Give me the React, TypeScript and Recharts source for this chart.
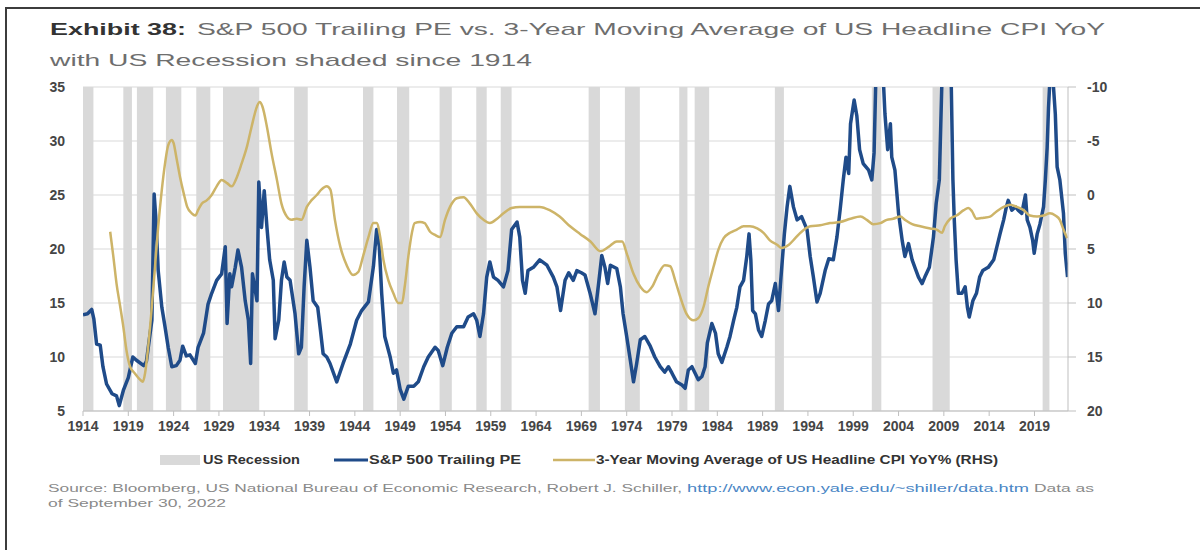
import React from "react";
import {
  CartesianGrid,
  ComposedChart,
  Line,
  ReferenceArea,
  XAxis,
  YAxis,
} from "recharts";

// S&P 500 trailing PE (left axis)
const peYears = [
  1914.0, 1914.5, 1914.96, 1915.2, 1915.5, 1915.9, 1916.2, 1916.6, 1917.2, 1917.7,
  1918.0, 1918.45, 1919.0, 1919.5, 1919.9, 1920.7, 1921.0, 1921.6, 1921.85, 1922.05,
  1922.3, 1922.7, 1923.05, 1923.4, 1923.8, 1924.3, 1924.7, 1925.0, 1925.4, 1925.8,
  1926.4, 1926.7, 1927.3, 1927.8, 1928.2, 1928.75, 1929.3, 1929.7, 1929.9, 1930.2,
  1930.4, 1930.8, 1931.1, 1931.5, 1931.9, 1932.25, 1932.5, 1932.7, 1933.0, 1933.2,
  1933.4, 1933.7, 1934.0, 1934.3, 1934.6, 1935.0, 1935.2, 1935.6, 1935.9, 1936.2,
  1936.5, 1936.85, 1937.4, 1937.8, 1938.1, 1938.4, 1938.7, 1939.05, 1939.4, 1939.9,
  1940.2, 1940.5, 1940.9, 1941.26, 1942.0, 1942.7, 1943.5, 1944.2, 1944.75, 1945.5,
  1946.05, 1946.4, 1946.7, 1946.96, 1947.3, 1947.9, 1948.25, 1948.6, 1949.0, 1949.4,
  1949.9, 1950.5, 1951.0, 1951.6, 1952.1, 1952.85, 1953.2, 1953.7, 1954.2, 1954.7,
  1955.25, 1956.0, 1956.5, 1957.1, 1957.45, 1957.8, 1958.2, 1958.55, 1958.9, 1959.3,
  1959.8, 1960.4, 1960.9, 1961.3, 1961.9, 1962.2, 1962.5, 1962.8, 1963.1, 1963.7,
  1964.4, 1965.2, 1965.9, 1966.3, 1966.7, 1967.2, 1967.6, 1968.1, 1968.5, 1969.0,
  1969.4, 1969.96, 1970.5, 1970.9, 1971.25, 1971.6, 1971.9, 1972.2, 1972.9, 1973.3,
  1973.6, 1974.0, 1974.4, 1974.75, 1975.1, 1975.5, 1976.0, 1976.6, 1977.1, 1977.7,
  1978.2, 1978.6, 1979.0, 1979.5, 1980.1, 1980.45, 1980.8, 1981.2, 1981.55, 1981.9,
  1982.3, 1982.65, 1982.9, 1983.4, 1983.8, 1984.1, 1984.5, 1985.05, 1985.4, 1985.8,
  1986.15, 1986.5, 1986.9, 1987.25, 1987.5, 1987.7, 1987.9, 1988.2, 1988.55, 1988.9,
  1989.3, 1989.65, 1990.0, 1990.4, 1990.75, 1991.0, 1991.4, 1991.7, 1992.0, 1992.4,
  1992.8, 1993.3, 1993.9, 1994.25, 1994.6, 1995.0, 1995.35, 1995.9, 1996.3, 1996.8,
  1997.2, 1997.55, 1997.9, 1998.2, 1998.5, 1998.7, 1999.1, 1999.4, 1999.7, 2000.1,
  2000.7, 2001.05, 2001.3, 2001.5, 2001.8, 2002.1, 2002.3, 2002.5, 2002.8, 2003.1,
  2003.25, 2003.6, 2004.0, 2004.4, 2004.7, 2005.1, 2005.5, 2005.8, 2006.2, 2006.6,
  2006.9, 2007.4, 2007.85, 2008.15, 2008.5, 2008.8, 2009.2, 2009.45, 2009.8, 2010.0,
  2010.15, 2010.35, 2010.6, 2011.0, 2011.35, 2011.6, 2011.8, 2012.2, 2012.6, 2012.95,
  2013.3, 2013.9, 2014.5, 2014.85, 2015.2, 2015.6, 2015.9, 2016.1, 2016.5, 2016.9,
  2017.2, 2017.6, 2018.0, 2018.2, 2018.5, 2018.8, 2018.97, 2019.3, 2019.6, 2020.0,
  2020.2, 2020.4, 2020.55, 2020.7, 2021.05, 2021.3, 2021.5, 2021.8, 2022.2, 2022.4,
  2022.65,
];
const peValues = [
  13.9, 14.0, 14.4, 13.5, 11.2, 11.1, 9.1, 7.5, 6.6, 6.4,
  5.5, 6.9, 8.1, 10.0, 9.7, 9.2, 9.6, 13.4, 25.1, 22.7,
  18.0, 14.6, 12.8, 10.9, 9.1, 9.2, 9.7, 11.0, 10.1, 10.2,
  9.4, 10.9, 12.2, 14.9, 15.9, 17.1, 17.7, 20.2, 13.1, 17.7,
  16.5, 18.3, 19.9, 18.3, 15.2, 13.4, 9.4, 17.7, 16.2, 15.2,
  26.2, 22.0, 25.4, 22.0, 19.0, 17.1, 11.7, 13.4, 17.1, 18.8,
  17.4, 17.1, 14.0, 10.3, 10.9, 16.5, 20.8, 18.3, 15.2, 14.6,
  12.5, 10.3, 10.0, 9.4, 7.7, 9.4, 11.2, 13.4, 14.3, 15.1,
  18.4, 21.8, 20.2, 15.9, 11.9, 10.0, 8.5, 8.8, 7.0, 6.1,
  7.3, 7.3, 7.7, 9.1, 10.0, 10.9, 10.6, 9.2, 10.9, 12.2,
  12.8, 12.8, 13.7, 14.0, 13.4, 11.9, 14.0, 17.4, 18.8, 17.4,
  17.1, 16.5, 18.0, 21.8, 22.5, 21.1, 17.1, 15.9, 18.0, 18.3,
  19.0, 18.5, 17.4, 16.5, 14.3, 17.1, 17.8, 17.1, 18.0, 17.8,
  17.6, 15.9, 14.0, 16.8, 19.4, 18.3, 16.8, 18.5, 18.2, 16.5,
  14.0, 11.9, 9.7, 7.7, 9.4, 11.6, 11.9, 11.0, 10.0, 9.1,
  8.6, 9.1, 8.5, 7.7, 7.4, 7.1, 8.8, 9.1, 8.5, 7.9,
  8.2, 9.1, 11.3, 13.1, 12.2, 10.3, 9.5, 10.9, 11.9, 13.4,
  14.6, 16.5, 17.1, 19.3, 21.4, 19.0, 14.3, 14.0, 12.5, 11.9,
  13.4, 14.9, 15.2, 16.8, 14.3, 17.1, 21.4, 23.9, 25.8, 23.9,
  22.7, 23.0, 21.8, 19.3, 17.4, 15.1, 15.9, 18.0, 19.1, 19.0,
  21.1, 23.6, 26.4, 28.5, 27.0, 31.6, 33.8, 32.3, 29.2, 27.9,
  27.3, 26.4, 28.9, 36.0, 46.0, 46.0, 36.0, 32.5, 29.2, 31.6,
  28.5, 27.3, 23.3, 20.8, 19.3, 20.5, 19.0, 18.3, 17.4, 16.8,
  17.4, 18.3, 21.1, 24.2, 26.4, 36.0, 120.0, 120.0, 36.0, 26.4,
  22.7, 19.0, 15.9, 15.9, 16.5, 14.6, 13.7, 15.2, 15.9, 17.4,
  18.0, 18.3, 19.0, 20.2, 21.4, 22.7, 23.9, 24.5, 23.6, 23.9,
  23.6, 23.3, 25.0, 22.7, 22.0, 20.8, 19.6, 21.4, 22.3, 23.9,
  26.4, 29.4, 33.1, 35.6, 35.6, 32.5, 27.6, 26.4, 23.3, 19.6,
  17.4,
];

// 3-year moving average of US headline CPI YoY % (right axis, inverted)
const cpiYears = [
  1917.0, 1917.35, 1917.7, 1918.1, 1918.45, 1918.8, 1919.2, 1919.7, 1920.3, 1920.6,
  1920.85, 1921.2, 1921.6, 1921.95, 1922.3, 1922.7, 1923.05, 1923.4, 1923.8, 1924.0,
  1924.3, 1924.7, 1925.1, 1925.5, 1926.0, 1926.4, 1926.7, 1927.1, 1927.65, 1928.2,
  1928.75, 1929.3, 1929.9, 1930.4, 1931.0, 1931.5, 1932.1, 1932.6, 1933.2, 1933.5,
  1933.8, 1934.3, 1934.8, 1935.4, 1935.9, 1936.5, 1937.0, 1937.6, 1938.1, 1938.7,
  1939.2, 1939.8, 1940.3, 1940.9, 1941.3, 1941.8, 1942.4, 1943.1, 1943.8, 1944.4,
  1944.9, 1945.5, 1946.05, 1946.4, 1946.8, 1947.15, 1947.7, 1948.25, 1948.8, 1949.2,
  1949.5, 1949.9, 1950.3, 1950.6, 1951.2, 1951.7, 1952.3, 1952.85, 1953.4, 1953.95,
  1954.5, 1955.25, 1956.0, 1956.7, 1957.45, 1958.2, 1958.9, 1959.7, 1960.4, 1961.3,
  1962.2, 1963.3, 1964.4, 1965.5, 1966.6, 1967.75, 1968.85, 1970.0, 1971.1, 1972.0,
  1972.9, 1973.5, 1974.0, 1974.75, 1975.5, 1976.2, 1976.8, 1977.5, 1978.2, 1978.8,
  1979.35, 1979.9, 1980.6, 1981.4, 1981.9, 1982.5, 1983.0, 1983.6, 1984.1, 1984.7,
  1985.4, 1986.15, 1986.9, 1987.6, 1988.4, 1989.1, 1989.8, 1990.6, 1991.1, 1991.9,
  1992.6, 1993.3, 1994.25, 1995.35, 1996.45, 1997.55, 1998.7, 1999.8, 2000.5, 2001.2,
  2002.0, 2002.7, 2003.4, 2004.2, 2004.7, 2005.5, 2006.4, 2007.5, 2008.2, 2008.8,
  2009.1, 2009.7, 2010.4, 2011.2, 2011.7, 2012.1, 2012.6, 2013.4, 2014.1, 2014.85,
  2015.6, 2016.3, 2017.05, 2017.8, 2018.5, 2019.3, 2020.0, 2020.7, 2021.3, 2021.8,
  2022.2, 2022.6,
];
const cpiValues = [
  3.4, 5.7, 8.2, 10.3, 12.2, 14.4, 15.9, 16.5, 17.1, 17.3,
  16.5, 14.0, 10.3, 6.6, 2.9, -0.5, -2.9, -4.6, -5.1, -4.8,
  -3.5, -1.7, -0.2, 1.1, 1.7, 1.9, 1.4, 0.8, 0.5, 0.0,
  -0.8, -1.4, -1.1, -0.8, -1.7, -2.9, -4.5, -6.3, -8.2, -8.6,
  -8.2, -6.3, -3.9, -1.4, 0.8, 2.0, 2.3, 2.2, 2.3, 1.1,
  0.5, 0.0, -0.5, -0.8, -0.5, 2.3, 4.8, 6.5, 7.4, 7.1,
  5.7, 3.9, 2.6, 2.6, 3.9, 6.0, 7.9, 9.1, 10.0, 10.0,
  8.5, 5.7, 3.5, 2.6, 2.5, 2.6, 3.4, 3.7, 3.9, 2.3,
  1.1, 0.3, 0.2, 0.8, 1.7, 2.3, 2.6, 2.2, 1.7, 1.2,
  1.1, 1.1, 1.1, 1.4, 2.0, 2.9, 3.6, 4.3, 5.2, 4.8,
  4.3, 4.3, 5.4, 7.3, 8.5, 9.0, 8.5, 7.3, 6.5, 6.6,
  7.9, 9.4, 11.0, 11.6, 11.4, 10.3, 8.5, 6.6, 5.1, 4.0,
  3.5, 3.2, 2.9, 2.9, 3.1, 3.5, 4.2, 4.6, 4.9, 4.6,
  4.0, 3.4, 2.9, 2.8, 2.6, 2.5, 2.2, 2.0, 2.3, 2.7,
  2.6, 2.3, 2.2, 2.0, 2.3, 2.7, 2.9, 3.1, 3.2, 3.5,
  2.9, 2.2, 1.9, 1.4, 1.2, 1.5, 2.2, 2.1, 2.0, 1.5,
  1.1, 0.9, 1.1, 1.4, 1.9, 2.0, 1.9, 1.7, 1.9, 2.3,
  3.2, 4.0,
];

// US recessions as shaded in the exhibit
const recessionStarts = [
  1914.0, 1918.45, 1919.95, 1923.15, 1926.5, 1929.45, 1937.3, 1944.9, 1948.65, 1953.35,
  1957.4, 1960.1, 1969.8, 1973.8, 1979.8, 1981.5, 1990.35, 2001.05, 2007.75, 2019.9,
];
const recessionEnds = [
  1915.15, 1919.4, 1921.75, 1924.85, 1928.05, 1933.45, 1938.8, 1946.05, 1950.0, 1954.7,
  1958.55, 1961.3, 1971.05, 1975.45, 1980.7, 1983.1, 1991.35, 2002.1, 2009.65, 2020.65,
];

const xTicks = [
  1914, 1919, 1924, 1929, 1934, 1939, 1944, 1949, 1954, 1959, 1964,
  1969, 1974, 1979, 1984, 1989, 1994, 1999, 2004, 2009, 2014, 2019,
];
const leftTicks = [5, 10, 15, 20, 25, 30, 35];
const rightTicks = [-10, -5, 0, 5, 10, 15, 20];

const peData = peYears.map((year, i) => ({ year, pe: peValues[i] }));
const cpiData = cpiYears.map((year, i) => ({ year, cpi: cpiValues[i] }));

const FONT = "'Liberation Sans', Arial, sans-serif";
const BLUE = "#1f4b89";
const GOLD = "#cdb468";
const AXIS = "#bfbfbf";
const tickStyle = { fill: "#454545", fontSize: 14, fontWeight: 700 };

export default function App() {
  return (
    <div
      style={{
        position: "absolute",
        left: 0,
        top: 0,
        width: 1200,
        height: 550,
        background: "#fff",
        overflow: "hidden",
        fontFamily: FONT,
      }}
    >
      <div
        style={{
          position: "absolute",
          left: 5,
          top: 7,
          right: 0,
          bottom: 0,
          borderLeft: "2px solid #3c3c3c",
          borderTop: "2px solid #3c3c3c",
        }}
      />

      <div style={{ position: "absolute", left: 0, top: 0 }}>
        <ComposedChart
          width={1200}
          height={445}
          margin={{ top: 87, right: 82, left: 40, bottom: 0 }}
        >
          <CartesianGrid yAxisId="left" vertical={false} stroke="#d9d9d9" />
          {recessionStarts.map((start, i) => (
            <ReferenceArea
              key={start}
              yAxisId="left"
              x1={start}
              x2={recessionEnds[i]}
              fill="#d9d9d9"
              fillOpacity={1}
              stroke="none"
            />
          ))}
          <XAxis
            type="number"
            dataKey="year"
            domain={[1914, 2022.7]}
            ticks={xTicks}
            interval={0}
            allowDataOverflow
            height={34}
            stroke={AXIS}
            tickSize={5}
            tickMargin={5}
            tick={tickStyle}
          />
          <YAxis
            yAxisId="left"
            domain={[5, 35]}
            ticks={leftTicks}
            allowDataOverflow
            width={43}
            axisLine={false}
            tickLine={false}
            tickSize={0}
            tickMargin={18}
            tick={tickStyle}
          />
          <YAxis
            yAxisId="right"
            orientation="right"
            domain={[-10, 20]}
            ticks={rightTicks}
            reversed
            allowDataOverflow
            width={50}
            stroke={AXIS}
            tickSize={8}
            tickMargin={11}
            tick={tickStyle}
          />
          <Line
            yAxisId="left"
            data={peData}
            dataKey="pe"
            type="linear"
            stroke={BLUE}
            strokeWidth={3.5}
            strokeLinejoin="round"
            dot={false}
            isAnimationActive={false}
          />
          <Line
            yAxisId="right"
            data={cpiData}
            dataKey="cpi"
            type="monotone"
            stroke={GOLD}
            strokeWidth={2.5}
            dot={false}
            isAnimationActive={false}
          />
        </ComposedChart>
      </div>

      <svg
        width={1200}
        height={550}
        style={{ position: "absolute", left: 0, top: 0, pointerEvents: "none" }}
      >
        {/* title */}
        <text x={50} y={35} fontSize={17} fontWeight={700} fill="#333"
          textLength={136} lengthAdjust="spacingAndGlyphs">
          Exhibit 38:
        </text>
        <text x={197} y={35} fontSize={17} fill="#6e6e6e"
          textLength={908} lengthAdjust="spacingAndGlyphs">
          {"S&P 500 Trailing PE vs. 3-Year Moving Average of US Headline CPI YoY"}
        </text>
        <text x={50} y={66} fontSize={17} fill="#6e6e6e"
          textLength={482} lengthAdjust="spacingAndGlyphs">
          with US Recession shaded since 1914
        </text>

        {/* legend */}
        <rect x={160} y={455} width={40} height={10} fill="#d9d9d9" />
        <text x={203} y={464} fontSize={12.5} fontWeight={700} fill="#333"
          textLength={97} lengthAdjust="spacingAndGlyphs">
          US Recession
        </text>
        <line x1={334} x2={368} y1={460} y2={460} stroke={BLUE} strokeWidth={3} />
        <text x={369} y={464} fontSize={12.5} fontWeight={700} fill="#333"
          textLength={152} lengthAdjust="spacingAndGlyphs">
          {"S&P 500 Trailing PE"}
        </text>
        <line x1={553} x2={595} y1={460} y2={460} stroke={GOLD} strokeWidth={2.5} />
        <text x={596} y={464} fontSize={12.5} fontWeight={700} fill="#333"
          textLength={402} lengthAdjust="spacingAndGlyphs">
          3-Year Moving Average of US Headline CPI YoY% (RHS)
        </text>

        {/* source */}
        <text x={48} y={492} fontSize={11.5} fill="#8a8a8a"
          textLength={634} lengthAdjust="spacingAndGlyphs">
          Source: Bloomberg, US National Bureau of Economic Research, Robert J. Schiller,
        </text>
        <text x={687} y={492} fontSize={11.5} fill="#4a86c5"
          textLength={342} lengthAdjust="spacingAndGlyphs">
          http://www.econ.yale.edu/~shiller/data.htm
        </text>
        <text x={1034} y={492} fontSize={11.5} fill="#8a8a8a"
          textLength={60} lengthAdjust="spacingAndGlyphs">
          Data as
        </text>
        <text x={48} y={507} fontSize={11.5} fill="#8a8a8a"
          textLength={178} lengthAdjust="spacingAndGlyphs">
          of September 30, 2022
        </text>
      </svg>
    </div>
  );
}
